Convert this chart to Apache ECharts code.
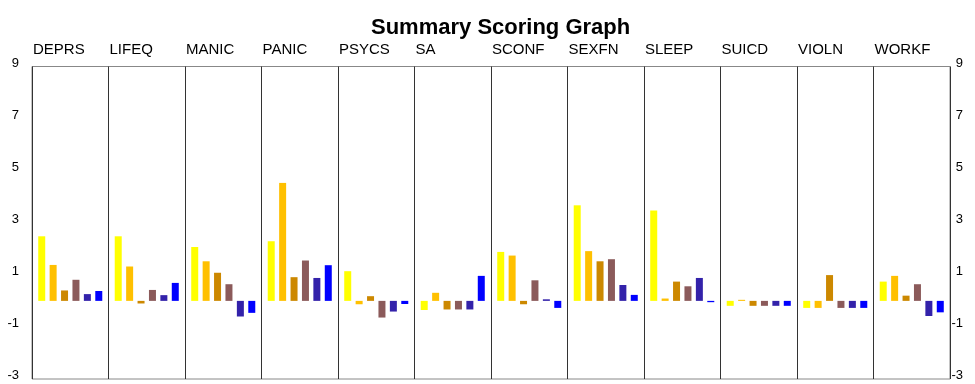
<!DOCTYPE html>
<html>
<head>
<meta charset="utf-8">
<script src="https://cdn.jsdelivr.net/npm/echarts@6/dist/echarts.min.js"></script>
<style>
html,body{margin:0;padding:0;background:#fff;}
#c{width:975px;height:384px;}
</style>
</head>
<body>
<div id="c"></div>
<script>
const titleText = 'Summary Scoring Graph';
const categories = ['DEPRS','LIFEQ','MANIC','PANIC','PSYCS','SA','SCONF','SEXFN','SLEEP','SUICD','VIOLN','WORKF'];
const yTickValues = [9, 7, 5, 3, 1, -1, -3];

const series1 = [2.48, 2.48, 2.07, 2.29, 1.14, -0.35, 1.88, 3.67, 3.47, -0.19, -0.27, 0.74];
const series2 = [1.38, 1.32, 1.52, 4.53, -0.13, 0.31, 1.74, 1.91, 0.09, 0.04, -0.27, 0.96];
const series3 = [0.40, -0.10, 1.08, 0.91, 0.18, -0.33, -0.13, 1.52, 0.74, -0.19, 0.99, 0.20];
const series4 = [0.81, 0.42, 0.64, 1.55, -0.64, -0.33, 0.79, 1.60, 0.56, -0.19, -0.27, 0.64];
const series5 = [0.26, 0.22, -0.60, 0.88, -0.41, -0.33, 0.06, 0.61, 0.88, -0.19, -0.27, -0.58];
const series6 = [0.38, 0.69, -0.46, 1.37, -0.12, 0.96, -0.27, 0.23, -0.05, -0.19, -0.27, -0.44];

const allSeries = [series1, series2, series3, series4, series5, series6];
const colors = ['#FFFF00', '#FFC000', '#CC8800', '#8B5A5A', '#3322AA', '#0000FF'];

const chart = echarts.init(document.getElementById('c'), null, {renderer: 'canvas'});

const yLabelFormatter = function (v) {
  return yTickValues.indexOf(Math.round(v)) >= 0 && Math.abs(v - Math.round(v)) < 1e-6 ? String(Math.round(v)) : '';
};

const option = {
  animation: false,
  backgroundColor: '#ffffff',
  title: {
    text: titleText,
    left: 366,
    top: 12,
    textStyle: {fontFamily: 'Liberation Sans, Arial, sans-serif', fontWeight: 'bold', fontSize: 22, color: '#000'}
  },
  grid: {
    left: 32, right: 25, top: 66.5, bottom: 5,
    show: true, borderColor: '#888', borderWidth: 1, backgroundColor: 'transparent'
  },
  xAxis: [
    {
      type: 'category',
      data: categories,
      boundaryGap: true,
      axisLine: {show: false},
      axisTick: {show: false},
      axisLabel: {show: false},
      splitLine: {show: true, interval: 0, lineStyle: {color: '#333', width: 1}}
    },
    {
      type: 'category',
      data: categories.concat(['']),
      boundaryGap: false,
      position: 'top',
      axisLine: {show: false},
      axisTick: {show: false},
      splitLine: {show: false},
      axisLabel: {
        show: true, interval: 0, align: 'left', margin: 9,
        fontFamily: 'Liberation Sans, Arial, sans-serif', fontSize: 15, color: '#000',
        padding: [0, 0, 0, 1]
      }
    }
  ],
  yAxis: [
    {
      type: 'value', min: -3, max: 9, interval: 1, position: 'left',
      axisLine: {show: false}, axisTick: {show: false}, splitLine: {show: false},
      axisLabel: {
        formatter: yLabelFormatter, margin: 13, align: 'right',
        verticalAlign: 'bottom', lineHeight: 7,
        fontFamily: 'Liberation Sans, Arial, sans-serif', fontSize: 13, color: '#000'
      }
    },
    {
      type: 'value', min: -3, max: 9, interval: 1, position: 'right',
      axisLine: {show: false}, axisTick: {show: false}, splitLine: {show: false},
      axisLabel: {
        formatter: yLabelFormatter, margin: 13, align: 'right',
        verticalAlign: 'bottom', lineHeight: 7,
        fontFamily: 'Liberation Sans, Arial, sans-serif', fontSize: 13, color: '#000'
      }
    }
  ],
  series: allSeries.map(function (d, i) {
    return {
      type: 'bar',
      xAxisIndex: 0,
      yAxisIndex: 0,
      data: d,
      barWidth: 7,
      barGap: '63%',
      itemStyle: {color: colors[i]},
      emphasis: {disabled: true}
    };
  })
};
chart.setOption(option);
</script>
</body>
</html>
